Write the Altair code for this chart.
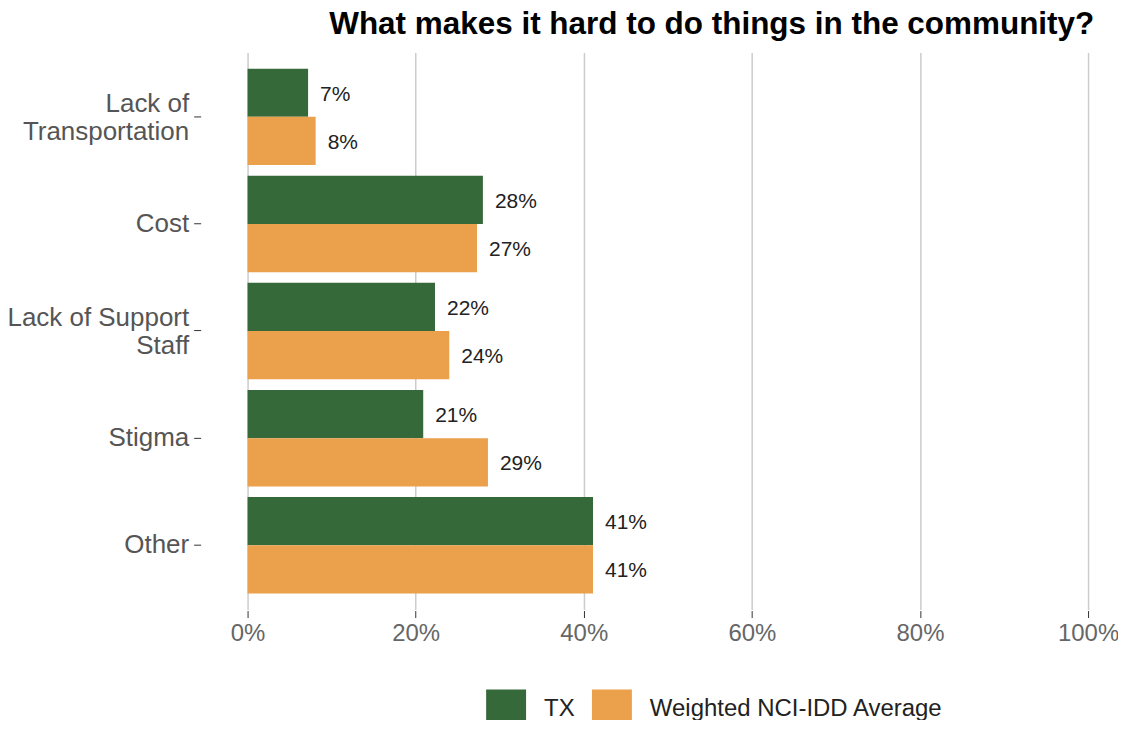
import altair as alt
import pandas as pd

categories = ["Lack of|Transportation", "Cost", "Lack of Support|Staff", "Stigma", "Other"]
series = ["TX", "Weighted NCI-IDD Average"]
tx_values = [7.2, 28.0, 22.3, 20.9, 41.1]
nci_values = [8.1, 27.3, 24.0, 28.6, 41.1]
colors = ["#36693A", "#EBA04B"]
x_ticks = [0, 20, 40, 60, 80, 100]

rows = []
for c, v in zip(categories, tx_values):
    rows.append({"category": c, "series": series[0], "value": v})
for c, v in zip(categories, nci_values):
    rows.append({"category": c, "series": series[1], "value": v})
df = pd.DataFrame(rows)

y_enc = alt.Y(
    "category:N",
    sort=categories,
    title=None,
    scale=alt.Scale(paddingInner=0.1, paddingOuter=0.15),
    axis=alt.Axis(
        labelExpr="split(datum.label, '|')",
        labelFontSize=26,
        labelColor="#555555",
        labelFont="Liberation Sans",
        labelLineHeight=28,
        labelPadding=5,
        labelLimit=400,
        labelOffset={"condition": {"test": "indexof(datum.value, '|') >= 0", "value": -13}, "value": 0},
        tickSize=7,
        tickColor="#333333",
        domain=False,
        grid=False,
        offset=47,
    ),
)
yoff = alt.YOffset("series:N", sort=series, scale=alt.Scale(paddingInner=0, paddingOuter=0))

x_enc = alt.X(
    "value:Q",
    title=None,
    scale=alt.Scale(domain=[0, 100], nice=False),
    axis=alt.Axis(
        values=x_ticks,
        labelExpr="datum.value + '%'",
        labelFontSize=24,
        labelColor="#666666",
        labelFont="Liberation Sans",
        labelPadding=4,
        labelFlush=False,
        tickSize=7,
        tickColor="#333333",
        domain=False,
        grid=True,
        gridColor="#CCCCCC",
        gridWidth=1.5,
        offset=1,
    ),
)

bars = alt.Chart(df).mark_bar().encode(
    y=y_enc,
    yOffset=yoff,
    x=x_enc,
    color=alt.Color(
        "series:N",
        sort=series,
        scale=alt.Scale(domain=series, range=colors),
        legend=alt.Legend(
            title=None,
            orient="none",
            direction="horizontal",
            legendX=239,
            legendY=638,
            symbolType="square",
            symbolSize=1600,
            symbolStrokeWidth=0,
            symbolOpacity=1,
            labelFontSize=24,
            labelFont="Liberation Sans",
            labelColor="#222222",
            labelLimit=500,
            labelOffset=18,
            columnPadding=17,
            padding=0,
        ),
    ),
)

labels = alt.Chart(df).transform_calculate(
    lab="format(datum.value, '.0f') + '%'"
).mark_text(
    align="left", baseline="middle", dx=12, dy=2, fontSize=21, font="Liberation Sans", color="#222222"
).encode(
    y=alt.Y("category:N", sort=categories),
    yOffset=yoff,
    x=alt.X("value:Q"),
    text="lab:N",
)

chart = (
    alt.layer(bars, labels)
    .properties(
        width=842,
        height=558,
        title=alt.TitleParams(
            "What makes it hard to do things in the community?",
            font="Liberation Sans",
            fontSize=31.5,
            fontWeight="bold",
            color="#000000",
            anchor="middle",
            dx=44,
            offset=12,
            limit=1000,
        ),
        autosize=alt.AutoSizeParams(type="none"),
        padding={"left": 240, "top": 44, "right": 30, "bottom": 110},
    )
    .configure_view(stroke=None)
)

chart.save("out.html", embed_options={"renderer": "svg", "actions": False})
